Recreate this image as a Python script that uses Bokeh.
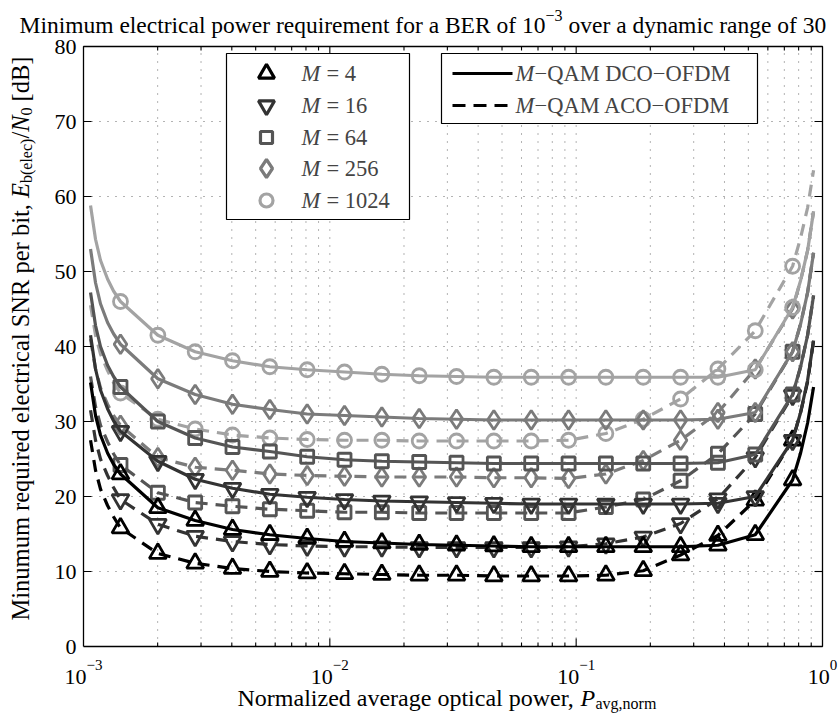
import math
from bokeh.plotting import figure
from bokeh.models import Range1d, LinearScale, Label
from bokeh.embed import file_html
from bokeh.resources import INLINE

FONT = "Liberation Serif"

# ---------------- data ----------------
x_left = [1.068e-3, 1.119e-3, 1.172e-3, 1.252e-3, 1.324e-3]
x_marks = [1.413e-3, 2.004e-3, 2.840e-3, 4.026e-3, 5.707e-3, 8.091e-3,
           1.147e-2, 1.626e-2, 2.306e-2, 3.268e-2, 4.633e-2, 6.570e-2,
           9.314e-2, 0.1320, 0.1872, 0.2654, 0.3762, 0.5333, 0.7561]
x_right = [0.815, 0.870, 0.920]

M_values = [4, 16, 64, 256, 1024]

# DCO-OFDM (solid)
dco_left = {
    4:    [35.2, 30.8, 28.2, 25.8, 24.3],
    16:   [41.5, 37.0, 34.2, 31.7, 30.1],
    64:   [47.2, 42.8, 40.0, 37.5, 36.0],
    256:  [53.0, 48.5, 45.7, 43.2, 41.7],
    1024: [58.8, 54.3, 51.5, 49.0, 47.4],
}
dco_marks = {
    4:    [23.0, 18.5, 16.8, 15.6, 14.9, 14.4, 14.0, 13.8, 13.6, 13.5, 13.4, 13.3, 13.3, 13.3, 13.3, 13.3, 13.5, 14.9, 22.2],
    16:   [28.7, 24.7, 22.3, 21.1, 20.3, 19.9, 19.6, 19.4, 19.3, 19.2, 19.1, 19.0, 19.0, 19.0, 19.0, 19.0, 19.1, 20.0, 27.5],
    64:   [34.6, 30.0, 27.8, 26.6, 26.0, 25.3, 24.9, 24.7, 24.6, 24.5, 24.4, 24.4, 24.4, 24.4, 24.4, 24.4, 24.5, 25.6, 33.6],
    256:  [40.3, 35.7, 33.6, 32.3, 31.6, 31.0, 30.8, 30.6, 30.4, 30.3, 30.2, 30.2, 30.2, 30.2, 30.2, 30.2, 30.3, 31.2, 39.3],
    1024: [46.0, 41.5, 39.3, 38.1, 37.3, 36.9, 36.6, 36.3, 36.1, 36.0, 35.9, 35.9, 35.9, 35.9, 35.9, 35.9, 35.9, 36.9, 45.2],
}
dco_right = {
    4:    [25.8, 29.8, 34.6],
    16:   [31.2, 35.5, 40.8],
    64:   [37.3, 41.5, 46.8],
    256:  [43.0, 47.2, 52.5],
    1024: [48.8, 52.8, 58.0],
}

# ACO-OFDM (dashed)
aco_left = {
    4:    [27.5, 23.5, 21.0, 18.8, 17.3],
    16:   [31.5, 27.5, 25.0, 22.8, 21.2],
    64:   [36.0, 32.0, 29.5, 27.3, 25.7],
    256:  [41.0, 37.0, 34.5, 32.3, 30.8],
    1024: [45.5, 41.5, 39.0, 36.8, 35.2],
}
aco_marks = {
    4:    [15.8, 12.4, 11.1, 10.4, 10.0, 9.8, 9.7, 9.6, 9.5, 9.5, 9.4, 9.4, 9.4, 9.5, 10.1, 12.2, 14.8, 19.5, 27.5],
    16:   [19.6, 16.3, 14.7, 14.0, 13.6, 13.4, 13.3, 13.3, 13.2, 13.2, 13.2, 13.2, 13.3, 13.7, 14.6, 16.4, 19.7, 25.2, 33.5],
    64:   [24.2, 20.5, 19.2, 18.7, 18.3, 18.1, 17.9, 17.9, 17.8, 17.8, 17.8, 17.8, 17.8, 18.6, 19.6, 22.1, 25.7, 31.0, 39.3],
    256:  [29.5, 25.2, 23.9, 23.5, 23.0, 22.8, 22.7, 22.6, 22.6, 22.6, 22.5, 22.5, 22.4, 23.0, 24.8, 27.5, 31.2, 37.0, 45.0],
    1024: [33.8, 30.3, 29.0, 28.2, 27.8, 27.6, 27.5, 27.5, 27.4, 27.4, 27.4, 27.4, 27.5, 28.4, 30.3, 33.0, 37.0, 42.1, 50.7],
}
aco_right = {
    4:    [31.2, 35.3, 40.8],
    16:   [37.3, 41.5, 46.8],
    64:   [43.0, 47.2, 52.5],
    256:  [48.8, 52.8, 58.0],
    1024: [54.5, 58.5, 63.5],
}

x_lim = [1e-3, 1.0]
y_lim = [0, 80]
x_major = [1e-3, 1e-2, 1e-1, 1.0]
x_exponents = ["\u22123", "\u22122", "\u22121", "0"]
x_minor = [m * d for d in (1e-3, 1e-2, 1e-1) for m in range(2, 10)]
y_ticks = [0, 10, 20, 30, 40, 50, 60, 70, 80]

# ---------------- layout / styles ----------------
W, H = 839, 716
FL, FR, FT, FB = 83, 17, 46, 70           # borders around the axes box (px)
FW, FH = W - FL - FR, H - FT - FB         # 739 x 600 axes box
dec = math.log10(x_lim[1]) - math.log10(x_lim[0])
xr0 = 10 ** (math.log10(x_lim[0]) - FL * dec / FW)
xr1 = 10 ** (math.log10(x_lim[1]) + FR * dec / FW)
yspan = y_lim[1] - y_lim[0]
yr0 = y_lim[0] - FB * yspan / FH
yr1 = y_lim[1] + FT * yspan / FH

colors = {4: "#000000", 16: "#333333", 64: "#555555", 256: "#7b7b7b", 1024: "#a3a3a3"}
markers = {4: "triangle", 16: "inverted_triangle", 64: "square", 256: "diamond", 1024: "circle"}
msizes = {4: 17, 16: 17, 64: 13, 256: 19, 1024: 14}
DASH = "12 8"
LW = 3.2
MLW = 2.8

p = figure(x_axis_type="log", x_range=Range1d(xr0, xr1), y_range=Range1d(yr0, yr1),
           width=W, height=H, min_border=0, x_axis_location=None, y_axis_location=None,
           output_backend="svg", toolbar_location=None)
p.title_location = None
p.extra_x_ranges = {"px": Range1d(-FL, FW + FR)}
p.extra_y_ranges = {"px": Range1d(-FB, FH + FT)}
p.extra_x_scales = {"px": LinearScale()}
p.extra_y_scales = {"px": LinearScale()}
p.background_fill_color = "white"
p.border_fill_color = "white"
p.outline_line_color = None
p.grid.visible = False
PX = dict(x_range_name="px", y_range_name="px")

# ---------------- grid (dotted) ----------------
GRID = dict(line_color="black", line_alpha=0.6, line_width=1, line_dash="1 7")
gx = [v for v in x_major + x_minor if x_lim[0] < v < x_lim[1]]
p.segment(x0=gx, y0=[y_lim[0]] * len(gx), x1=gx, y1=[y_lim[1]] * len(gx), **GRID)
gy = [v for v in y_ticks if y_lim[0] < v < y_lim[1]]
p.segment(x0=[x_lim[0]] * len(gy), y0=gy, x1=[x_lim[1]] * len(gy), y1=gy, **GRID)

# ---------------- series ----------------
line_x = x_left + x_marks + x_right
for M in M_values:
    c = colors[M]
    p.line(line_x, aco_left[M] + aco_marks[M] + aco_right[M], line_color=c, line_width=LW, line_dash=DASH)
    p.scatter(x_marks, aco_marks[M], marker=markers[M], size=msizes[M], line_color=c,
              fill_color=None, line_width=MLW)
for M in M_values:
    c = colors[M]
    p.line(line_x, dco_left[M] + dco_marks[M] + dco_right[M], line_color=c, line_width=LW)
    p.scatter(x_marks, dco_marks[M], marker=markers[M], size=msizes[M], line_color=c,
              fill_color=None, line_width=MLW)

# ---------------- axes box and inward ticks ----------------
p.line([x_lim[0], x_lim[1], x_lim[1], x_lim[0], x_lim[0]],
       [y_lim[0], y_lim[0], y_lim[1], y_lim[1], y_lim[0]], line_color="black", line_width=1.3)
TK = dict(line_color="black", line_width=1.1, length_units="screen")
tx = [v for v in x_major if x_lim[0] < v < x_lim[1]]
p.ray(x=tx, y=[y_lim[0]] * len(tx), length=8, angle=math.pi / 2, **TK)
p.ray(x=tx, y=[y_lim[1]] * len(tx), length=8, angle=-math.pi / 2, **TK)
p.ray(x=x_minor, y=[y_lim[0]] * len(x_minor), length=4, angle=math.pi / 2, **TK)
p.ray(x=x_minor, y=[y_lim[1]] * len(x_minor), length=4, angle=-math.pi / 2, **TK)
p.ray(x=[x_lim[0]] * len(gy), y=gy, length=8, angle=0, **TK)
p.ray(x=[x_lim[1]] * len(gy), y=gy, length=8, angle=math.pi, **TK)

# ---------------- legends ----------------
LFS = "22.5px"
p.quad(left=[143], right=[326], bottom=[427], top=[593], fill_color="white",
       line_color="black", line_width=1.2, **PX)
p.quad(left=[358], right=[674], bottom=[523], top=[593], fill_color="white",
       line_color="black", line_width=1.2, **PX)

rows1 = [573, 541, 509, 478, 446]
for M, ry in zip(M_values, rows1):
    p.scatter([183], [ry], marker=markers[M], size=msizes[M] - 1, line_color=colors[M],
              fill_color=None, line_width=3.2, **PX)
    p.add_layout(Label(x=218, y=ry, text="M", text_font=FONT, text_font_size=LFS,
                       text_font_style="italic", text_baseline="middle", **PX))
    p.add_layout(Label(x=243, y=ry, text="= %d" % M, text_font=FONT, text_font_size=LFS,
                       text_baseline="middle", **PX))

p.line([369, 429], [573, 573], line_color="black", line_width=3.2, **PX)
p.line([369, 429], [541, 541], line_color="black", line_width=3.2, line_dash="13 8", **PX)
for ry, txt in [(573, "\u2212QAM DCO\u2212OFDM"), (541, "\u2212QAM ACO\u2212OFDM")]:
    p.add_layout(Label(x=432, y=ry, text="M", text_font=FONT, text_font_size=LFS,
                       text_font_style="italic", text_baseline="middle", **PX))
    p.add_layout(Label(x=451, y=ry, text=txt, text_font=FONT, text_font_size=LFS,
                       text_baseline="middle", **PX))

# ---------------- tick labels ----------------
for v in y_ticks:
    p.add_layout(Label(x=x_lim[0], y=v, x_offset=-7, text=str(v), text_font=FONT,
                       text_font_size="22px", text_align="right", text_baseline="middle",
                       text_color="black"))
for i, (v, e) in enumerate(zip(x_major, x_exponents)):
    sw = 7.5 if len(e) == 1 else 16
    off = 11 - sw / 2
    p.add_layout(Label(x=v, y=-30, y_range_name="px", x_offset=off, text="10",
                       text_font=FONT, text_font_size="22px", text_align="right",
                       text_baseline="alphabetic", text_color="black"))
    p.add_layout(Label(x=v, y=-18, y_range_name="px", x_offset=off, text=e,
                       text_font=FONT, text_font_size="15px", text_align="left",
                       text_baseline="alphabetic", text_color="black"))

# ---------------- title ----------------
TFS = "23.5px"
p.add_layout(Label(x=-64, y=622, text="Minimum electrical power requirement for a BER of 10",
                   text_font=FONT, text_font_size=TFS, text_baseline="alphabetic",
                   text_color="black", **PX))
p.add_layout(Label(x=462, y=631, text="\u22123", text_font=FONT, text_font_size="16px",
                   text_baseline="alphabetic", text_color="black", **PX))
p.add_layout(Label(x=485, y=622, text="over a dynamic range of 30",
                   text_font=FONT, text_font_size=TFS, text_baseline="alphabetic",
                   text_color="black", **PX))

# ---------------- x axis label ----------------
p.add_layout(Label(x=154, y=-51, text="Normalized average optical power,", text_font=FONT,
                   text_font_size="24px", text_baseline="alphabetic", text_color="black", **PX))
p.add_layout(Label(x=497, y=-51, text="P", text_font=FONT, text_font_size="24px",
                   text_font_style="italic", text_baseline="alphabetic", text_color="black", **PX))
p.add_layout(Label(x=512, y=-57, text="avg,norm", text_font=FONT, text_font_size="16px",
                   text_baseline="alphabetic", text_color="black", **PX))

# ---------------- y axis label (rotated pieces) ----------------
YX = -63
def ylab(y, text, size="24.5px", style="normal", dx=0):
    p.add_layout(Label(x=YX + dx, y=y, text=text, text_font=FONT, text_font_size=size,
                       text_font_style=style, angle=math.pi / 2, text_align="left",
                       text_baseline="middle", text_color="black", **PX))
ylab(26, "Minumum required electrical SNR per bit,")
ylab(448.5, "E", style="italic")
ylab(463.5, "b(elec)", size="16px", dx=6)
ylab(508, "/")
ylab(514.8, "N", style="italic")
ylab(531, "0", size="16px", dx=6)
ylab(545, "[dB]")

open("out.html", "w").write(file_html(p, INLINE))
